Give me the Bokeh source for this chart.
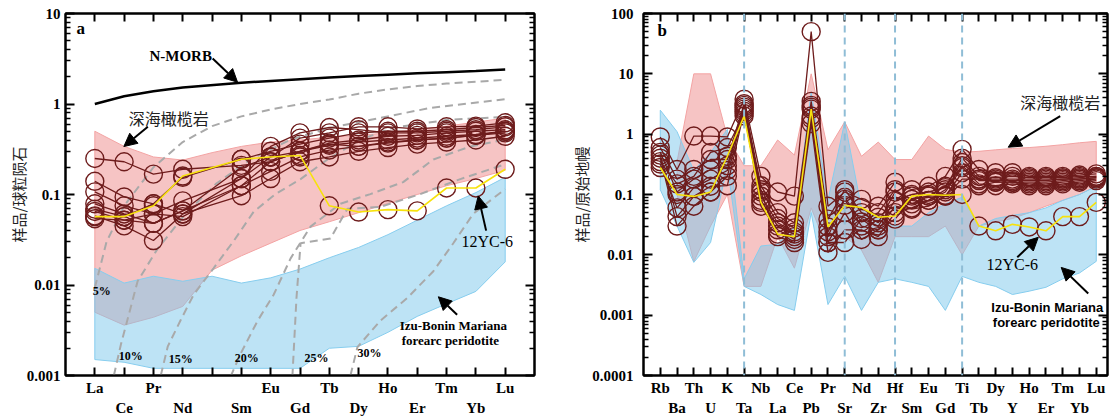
from bokeh.plotting import figure
from bokeh.layouts import row
from bokeh.models import (FixedTicker, LinearAxis, LogAxis, Range1d, Span, Label,
                          Arrow, NormalHead, CustomJSTickFormatter)
from bokeh.embed import file_html
from bokeh.resources import INLINE

# ---------------- Panel a : REE / chondrite ----------------
ree_row1 = ["", "La", "", "Pr", "", "", "", "Eu", "", "Tb", "", "Ho", "", "Tm", "", "Lu"]
ree_row2 = ["", "", "Ce", "", "Nd", "", "Sm", "", "Gd", "", "Dy", "", "Er", "", "Yb", ""]
ree_ticks = list(range(1, 16))
ree_pos = [1, 2, 3, 4, 6, 7, 8, 9, 10, 11, 12, 13, 14, 15]   # La..Lu (Pm skipped)
field_pos_a = list(range(1, 16))                              # La..Lu incl. Pm

nmorb = [1.0, 1.22, 1.38, 1.52, 1.72, 1.80, 1.88, 1.96, 2.04, 2.11, 2.18, 2.25, 2.32, 2.40]

sa1 = [0.25, 0.23, 0.168, 0.19, 0.21, 0.23, 0.30, 0.35, 0.38, 0.40, 0.42, 0.44, 0.46, 0.50]
sa2 = [0.14, 0.094, 0.079, 0.155, 0.245, 0.30, 0.36, 0.42, 0.48, 0.50, 0.50, 0.52, 0.55, 0.58]
sa3 = [0.107, 0.075, 0.061, 0.085, 0.15, 0.26, 0.42, 0.48, 0.56, 0.56, 0.53, 0.56, 0.57, 0.62]
sa4 = [0.079, 0.061, 0.048, 0.066, 0.125, 0.18, 0.26, 0.31, 0.34, 0.37, 0.40, 0.42, 0.45, 0.48]
sa5 = [0.069, 0.057, 0.079, 0.061, 0.097, 0.15, 0.23, 0.26, 0.30, 0.33, 0.36, 0.38, 0.40, 0.44]
sa6 = [0.065, 0.052, 0.061, 0.057, 0.125, 0.23, 0.30, 0.37, 0.40, 0.44, 0.45, 0.48, 0.50, 0.52]
sa7 = [0.058, 0.045, 0.031, 0.061, 0.15, 0.34, 0.48, 0.55, 0.52, 0.48, 0.48, 0.50, 0.52, 0.56]
sa8 = [0.054, 0.052, 0.048, 0.066, 0.20, 0.26, 0.30, 0.36, 0.34, 0.38, 0.40, 0.42, 0.45, 0.50]
yc6_a = [0.057, 0.057, 0.075, 0.16, 0.245, 0.26, 0.27, 0.075, 0.064, 0.068, 0.066, 0.118, 0.118, 0.19]

pink_a_upper = [0.50, 0.34, 0.26, 0.24, 0.29, 0.34, 0.38, 0.40, 0.43, 0.45, 0.48, 0.52, 0.57, 0.63, 0.70]
pink_a_lower = [0.005, 0.0036, 0.0044, 0.0058, 0.0146, 0.021, 0.029, 0.04, 0.05, 0.063, 0.08, 0.10, 0.125, 0.15, 0.185]
blue_a_upper = [0.0153, 0.0105, 0.0125, 0.011, 0.0125, 0.0105, 0.012, 0.015, 0.02, 0.026, 0.036, 0.052, 0.075, 0.105, 0.155]
blue_a_lower = [0.0015, 0.0014, 0.0012, 0.0012, 0.0012, 0.0012, 0.0012, 0.0012, 0.002, 0.0021, 0.003, 0.0045, 0.0062, 0.0085, 0.018]

melt5_x = [1.0, 1.4, 1.8, 2, 3, 4, 5, 6, 7, 8, 9, 10, 11, 12, 13, 14, 15]
melt5_y = [0.0093, 0.03, 0.055, 0.075, 0.2, 0.38, 0.57, 0.73, 0.87, 1.0, 1.12, 1.3, 1.45, 1.58, 1.68, 1.76, 1.85]
melt10_x = [1.65, 1.89, 2.46, 3.15, 4.10, 5.12, 6.31, 7.68, 9.04, 10.74, 12.44, 15.0]
melt10_y = [0.001, 0.0022, 0.011, 0.0254, 0.0612, 0.130, 0.244, 0.404, 0.547, 0.703, 0.904, 1.13]
melt15_x = [3.25, 3.49, 3.93, 4.37, 5.05, 5.73, 6.42, 7.16, 8.02, 8.94, 10.06, 11.18, 13.02, 15.0]
melt15_y = [0.001, 0.0021, 0.0041, 0.0078, 0.0153, 0.0304, 0.0646, 0.101, 0.148, 0.244, 0.404, 0.547, 0.668, 0.721]
melt20_x = [5.63, 5.97, 6.55, 7.10, 7.68, 8.36, 9.38, 10.40, 11.52, 12.55, 13.81, 15.0]
melt20_y = [0.00097, 0.00173, 0.0040, 0.0078, 0.0197, 0.0442, 0.079, 0.101, 0.137, 0.244, 0.339, 0.404]
melt25_x = [7.74, 7.88, 8.02, 9.04, 9.62, 10.74, 12.10, 13.47, 15.0]
melt25_y = [0.00097, 0.0072, 0.0289, 0.0327, 0.0697, 0.073, 0.101, 0.148, 0.216]
melt30_x = [9.72, 9.96, 10.74, 11.66, 12.55, 13.23, 13.91, 15.0]
melt30_y = [0.001, 0.00206, 0.00403, 0.0072, 0.0142, 0.0289, 0.0612, 0.115]

# ---------------- Panel b : spider / primitive mantle ----------------
sp_row1 = ["", "Rb", "", "Th", "", "K", "", "Nb", "", "Ce", "", "Pr", "", "Nd", "", "Hf", "",
           "Eu", "", "Ti", "", "Dy", "", "Ho", "", "Tm", "", "Lu"]
sp_row2 = ["", "", "Ba", "", "U", "", "Ta", "", "La", "", "Pb", "", "Sr", "", "Zr", "", "Sm",
           "", "Gd", "", "Tb", "", "Y", "", "Er", "", "Yb", ""]
sp_pos = list(range(1, 28))
sp_dashed = [6, 12, 15, 19]   # Ta, Sr, Hf, Ti

sb1 = [0.9, 0.26, 0.93, 0.93, 0.9, 3.8, 0.2, 0.11, 0.094, 50, 0.064, 0.11, 0.083, 0.064, 0.16, 0.12, 0.137, 0.2, 0.56, 0.26, 0.23, 0.23, 0.2, 0.2, 0.2, 0.21, 0.22]
sb2 = [0.6, 0.18, 0.26, 0.38, 0.38, 3.2, 0.14, 0.05, 0.034, 3.5, 0.039, 0.12, 0.05, 0.034, 0.11, 0.083, 0.094, 0.137, 0.34, 0.18, 0.18, 0.18, 0.18, 0.18, 0.18, 0.19, 0.2]
sb3 = [0.5, 0.11, 0.18, 0.26, 0.3, 2.8, 0.094, 0.034, 0.024, 3.0, 0.024, 0.083, 0.03, 0.026, 0.064, 0.057, 0.064, 0.094, 0.23, 0.14, 0.16, 0.16, 0.15, 0.15, 0.16, 0.17, 0.18]
sb4 = [0.45, 0.043, 0.093, 0.137, 0.14, 2.4, 0.064, 0.026, 0.018, 1.8, 0.016, 0.05, 0.018, 0.026, 0.039, 0.083, 0.094, 0.094, 0.18, 0.18, 0.16, 0.16, 0.16, 0.16, 0.17, 0.18, 0.19]
sb5 = [0.4, 0.03, 0.064, 0.11, 0.2, 2.6, 0.11, 0.02, 0.016, 1.5, 0.011, 0.026, 0.026, 0.02, 0.05, 0.06, 0.08, 0.11, 0.28, 0.15, 0.14, 0.15, 0.14, 0.14, 0.15, 0.16, 0.17]
sb6 = [0.35, 0.15, 0.2, 0.5, 0.6, 2.2, 0.08, 0.03, 0.022, 2.0, 0.016, 0.016, 0.04, 0.03, 0.08, 0.1, 0.11, 0.13, 0.4, 0.2, 0.19, 0.2, 0.19, 0.19, 0.19, 0.2, 0.2]
sb7 = [0.32, 0.06, 0.13, 0.18, 0.25, 3.0, 0.12, 0.04, 0.028, 2.8, 0.02, 0.09, 0.035, 0.05, 0.12, 0.07, 0.08, 0.12, 0.3, 0.17, 0.17, 0.17, 0.17, 0.17, 0.18, 0.18, 0.19]
yc6_b = [0.28, 0.10, 0.093, 0.11, 0.43, 2.0, 0.074, 0.022, 0.02, 2.6, 0.029, 0.066, 0.061, 0.042, 0.044, 0.094, 0.10, 0.097, 0.10, 0.030, 0.025, 0.032, 0.029, 0.025, 0.043, 0.043, 0.074]

pink_b_pos = list(range(2, 28))
pink_b_upper = [0.35, 10, 10, 0.9, 0.3, 0.3, 0.8, 0.45, 10, 0.55, 1.6, 0.43, 0.74, 0.38, 0.38, 0.93, 0.56, 0.5, 0.52, 0.55, 0.58, 0.6, 0.63, 0.67, 0.72, 0.76]
pink_b_lower = [0.1, 0.0077, 0.03, 0.1, 0.003, 0.003, 0.02, 0.006, 0.06, 0.012, 0.02, 0.012, 0.0035, 0.02, 0.02, 0.02, 0.03, 0.01, 0.03, 0.035, 0.04, 0.05, 0.064, 0.08, 0.1, 0.137]
blue_b_upper = [2.5, 1.1, 0.25, 0.5, 1.2, 0.004, 0.014, 0.015, 0.03, 5, 0.08, 1.6, 0.06, 0.04, 0.03, 0.03, 0.05, 0.07, 0.09, 0.03, 0.04, 0.045, 0.05, 0.06, 0.08, 0.1, 0.137]
blue_b_lower = [0.12, 0.03, 0.0075, 0.016, 0.3, 0.003, 0.0022, 0.0015, 0.0012, 0.05, 0.0015, 0.0044, 0.0012, 0.0035, 0.004, 0.0035, 0.003, 0.0012, 0.0044, 0.0035, 0.003, 0.0022, 0.0025, 0.0029, 0.004, 0.005, 0.0078]

# ---------------- styling ----------------
SERIF = "Liberation Serif"
CJK = "Noto Sans CJK SC"
RED = "#6e1c1c"
YEL = "#f7e20c"
PINK_FILL = "#f6c4c4"
PINK_LINE = "#f3a3a3"
BLUE_FILL = "#7cc8ec"
BLUE_LINE = "#86cdee"
GREY = "#a9a9a9"

YFMT = ("if (tick >= 1) { return String(Math.round(tick)); }"
        " return String(parseFloat(tick.toPrecision(1)));")


def decade_minors(lo, hi):
    out = []
    for e in range(lo, hi):
        for k in range(2, 10):
            out.append(k * 10.0 ** e)
    return out


def make_fig(width, xr, yr, bl, br, bt, bb):
    p = figure(width=width, height=420, x_range=Range1d(*xr), y_range=Range1d(*yr),
               y_axis_type="log", output_backend="svg", toolbar_location=None,
               min_border_left=bl, min_border_right=br, min_border_top=bt, min_border_bottom=bb)
    p.xgrid.visible = False
    p.ygrid.visible = False
    p.outline_line_color = "black"
    p.outline_line_width = 2
    p.background_fill_color = "white"
    p.border_fill_color = "white"
    return p


def style_axes(p, ticks, row1, row2, ymajor, yminor, ylabel, ystand, ylab_stand):
    xt = FixedTicker(ticks=ticks, minor_ticks=[])
    yt = FixedTicker(ticks=ymajor, minor_ticks=yminor)
    blank = CustomJSTickFormatter(code="return '';")
    names_code = "const i = Math.round(tick); return names[i] || '';"

    xb = p.xaxis[0]
    xb.ticker = xt
    xb.formatter = CustomJSTickFormatter(args=dict(names=row1), code=names_code)
    xb.major_tick_in = 8
    xb.major_tick_out = 0
    xb.major_tick_line_width = 2
    xb.axis_line_width = 2
    xb.major_label_standoff = 4
    xb.major_label_text_font = SERIF
    xb.major_label_text_font_style = "bold"
    xb.major_label_text_font_size = "15px"
    xb.major_label_text_color = "black"

    xb2 = LinearAxis(ticker=xt, formatter=CustomJSTickFormatter(args=dict(names=row2), code=names_code))
    xb2.axis_line_color = None
    xb2.major_tick_line_color = None
    xb2.minor_tick_line_color = None
    xb2.major_tick_in = 0
    xb2.major_tick_out = 0
    xb2.major_label_standoff = 1
    xb2.major_label_text_font = SERIF
    xb2.major_label_text_font_style = "bold"
    xb2.major_label_text_font_size = "15px"
    xb2.major_label_text_color = "black"
    p.add_layout(xb2, "below")

    xa = LinearAxis(ticker=xt, formatter=blank)
    xa.major_tick_in = 8
    xa.major_tick_out = 0
    xa.major_tick_line_width = 2
    xa.axis_line_width = 2
    xa.major_label_standoff = 0
    xa.major_label_text_font_size = "1px"
    p.add_layout(xa, "above")

    yl = p.yaxis[0]
    yl.ticker = yt
    yl.formatter = CustomJSTickFormatter(code=YFMT)
    yl.major_tick_in = 9
    yl.major_tick_out = 0
    yl.minor_tick_in = 5
    yl.minor_tick_out = 0
    yl.major_tick_line_width = 2
    yl.minor_tick_line_width = 1.5
    yl.axis_line_width = 2
    yl.major_label_standoff = ystand
    yl.major_label_text_font = SERIF
    yl.major_label_text_font_style = "bold"
    yl.major_label_text_font_size = "15px"
    yl.major_label_text_color = "black"
    yl.axis_label = ylabel
    yl.axis_label_text_font = CJK
    yl.axis_label_text_font_style = "normal"
    yl.axis_label_text_font_size = "15px"
    yl.axis_label_text_color = "#222222"
    yl.axis_label_standoff = ylab_stand

    yr = LogAxis(ticker=yt, formatter=blank)
    yr.major_tick_in = 9
    yr.major_tick_out = 0
    yr.minor_tick_in = 5
    yr.minor_tick_out = 0
    yr.major_tick_line_width = 2
    yr.minor_tick_line_width = 1.5
    yr.axis_line_width = 2
    yr.major_label_standoff = 0
    yr.major_label_text_font_size = "1px"
    p.add_layout(yr, "right")


def field(p, xs, upper, lower, fill, alpha, line):
    p.patch(list(xs) + list(xs)[::-1], list(upper) + list(lower)[::-1],
            fill_color=fill, fill_alpha=alpha, line_color=line, line_width=1)


def txt(p, x, y, text, font=SERIF, size="14px", style="bold", color="black"):
    p.add_layout(Label(x=x, y=y, text=text, text_font=font, text_font_size=size,
                       text_font_style=style, text_color=color, text_align="center",
                       text_baseline="middle"))


def arrow(p, x0, y0, x1, y1):
    p.add_layout(Arrow(end=NormalHead(size=13, fill_color="black", line_color="black", line_width=1),
                       x_start=x0, y_start=y0, x_end=x1, y_end=y1,
                       line_color="black", line_width=2))


# ================= Panel a =================
pa = make_fig(555, (0, 16), (0.001, 10), 65, 21, 13, 41)
style_axes(pa, ree_ticks, ree_row1, ree_row2, [0.001, 0.01, 0.1, 1, 10],
           decade_minors(-3, 1), "样品/球粒陨石", 5, -5)

field(pa, field_pos_a, pink_a_upper, pink_a_lower, PINK_FILL, 1.0, PINK_LINE)
field(pa, field_pos_a, blue_a_upper, blue_a_lower, BLUE_FILL, 0.5, BLUE_LINE)

for mx, my in [(melt5_x, melt5_y), (melt10_x, melt10_y), (melt15_x, melt15_y),
               (melt20_x, melt20_y), (melt25_x, melt25_y), (melt30_x, melt30_y)]:
    pa.line(mx, my, line_color=GREY, line_width=2, line_dash="8 5")

pa.line(ree_pos, nmorb, line_color="black", line_width=2.5)

for s in [sa1, sa2, sa3, sa4, sa5, sa6, sa7, sa8]:
    pa.line(ree_pos, s, line_color=RED, line_width=1.3)
for s in [sa1, sa2, sa3, sa4, sa5, sa6, sa7, sa8, yc6_a]:
    pa.scatter(ree_pos, s, marker="circle", size=18, fill_color=None, line_color=RED, line_width=1.4)
pa.line(ree_pos, yc6_a, line_color=YEL, line_width=1.6)

txt(pa, 0.52, 6.77, "a", size="17px")
txt(pa, 3.93, 3.43, "N-MORB", size="15px")
arrow(pa, 5.02, 3.18, 5.87, 1.74)
txt(pa, 3.52, 0.703, "深海橄榄岩", font=CJK, size="16px", style="normal", color="#222222")
arrow(pa, 2.81, 0.561, 1.99, 0.339)
txt(pa, 14.39, 0.0303, "12YC-6", size="16px", style="normal")
arrow(pa, 14.35, 0.0399, 14.08, 0.0965)
txt(pa, 13.23, 0.00355, "Izu-Bonin Mariana", size="13px")
txt(pa, 13.13, 0.00244, "forearc peridotite", size="13px")
arrow(pa, 13.36, 0.00468, 12.72, 0.00741)
for px_, py_, t in [(1.24, 0.00863, "5%"), (2.23, 0.00163, "10%"), (3.93, 0.00151, "15%"),
                    (6.18, 0.00155, "20%"), (8.56, 0.00155, "25%"), (10.37, 0.00177, "30%")]:
    txt(pa, px_, py_, t, size="12px")

# ================= Panel b =================
pb = make_fig(557, (0, 27.67), (0.0001, 100), 88, 5, 11, 45)
style_axes(pb, sp_pos, sp_row1, sp_row2, [0.0001, 0.001, 0.01, 0.1, 1, 10, 100],
           decade_minors(-4, 2), "样品/原始地幔", 10, -3)

field(pb, pink_b_pos, pink_b_upper, pink_b_lower, PINK_FILL, 1.0, PINK_LINE)
field(pb, sp_pos, blue_b_upper, blue_b_lower, BLUE_FILL, 0.5, BLUE_LINE)

for xv in sp_dashed:
    pb.add_layout(Span(location=xv, dimension="height", line_color="#8fbdd6",
                       line_width=2, line_dash="7 5"))

for s in [sb1, sb2, sb3, sb4, sb5, sb6, sb7]:
    pb.line(sp_pos, s, line_color=RED, line_width=1.3)
for s in [sb1, sb2, sb3, sb4, sb5, sb6, sb7, yc6_b]:
    pb.scatter(sp_pos, s, marker="circle", size=18, fill_color=None, line_color=RED, line_width=1.4)
pb.line(sp_pos, yc6_b, line_color=YEL, line_width=1.6)

txt(pb, 1.12, 51.4, "b", size="17px")
txt(pb, 24.85, 3.4, "深海橄榄岩", font=CJK, size="16px", style="normal", color="#222222")
arrow(pb, 24.85, 1.99, 21.75, 0.608)
txt(pb, 21.99, 0.00694, "12YC-6", size="16px", style="normal")
arrow(pb, 22.29, 0.0091, 23.54, 0.0195)
txt(pb, 24.08, 0.00133, "Izu-Bonin Mariana", font="Liberation Sans", size="13px")
txt(pb, 24.02, 0.000755, "forearc peridotite", font="Liberation Sans", size="13px")
arrow(pb, 26.52, 0.00228, 24.91, 0.00619)

layout = row(pa, pb)
open("out.html", "w").write(file_html(layout, INLINE))
